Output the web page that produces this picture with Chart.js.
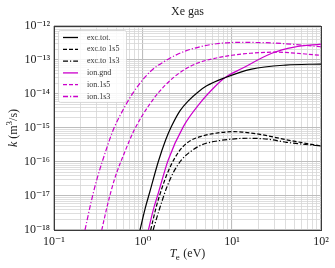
<!DOCTYPE html>
<html><head><meta charset="utf-8">
<script src="https://cdn.jsdelivr.net/npm/chart.js@4"></script>
<style>html,body{margin:0;padding:0;background:#fff}canvas{display:block}</style>
</head><body><canvas id="c" width="335" height="268"></canvas>
<script>
// ---- data (T_e in eV, k in m^3/s) ----
const T_excTot = [0.925, 1.05, 1.2, 1.49, 1.8, 2.09, 2.6, 3.23, 4.2, 5.2, 8.3, 16.6, 40, 100];
const k_excTot = [1e-18, 4.0e-18, 1.4e-17, 1.05e-16, 4.5e-16, 1.12e-15, 3.2e-15, 6.3e-15, 1.17e-14, 1.74e-14, 3.0e-14, 5.4e-14, 7.1e-14, 7.6e-14];

const T_exc1s5 = [1.22, 1.4, 1.62, 1.9, 2.29, 2.8, 3.5, 4.57, 7, 10.7, 13, 20, 41, 100];
const k_exc1s5 = [1e-18, 4.5e-18, 1.6e-17, 5.0e-17, 1.35e-16, 2.8e-16, 4.4e-16, 5.75e-16, 7.2e-16, 7.8e-16, 7.6e-16, 6.6e-16, 4.5e-16, 2.95e-16];

const T_exc1s3 = [1.3, 1.5, 1.85, 2.2, 2.72, 3.4, 4.57, 7, 10.7, 15, 25, 41, 100];
const k_exc1s3 = [1e-18, 3.5e-18, 1.8e-17, 5.0e-17, 1.17e-16, 2.0e-16, 3.2e-16, 4.2e-16, 4.8e-16, 5.0e-16, 4.7e-16, 3.8e-16, 2.95e-16];

const T_ionGnd = [1.15, 1.3, 1.49, 1.92, 2.84, 4.37, 6.45, 8.3, 12.9, 28, 50, 100];
const k_ionGnd = [1e-18, 3.8e-18, 1.25e-17, 1.15e-16, 1.1e-15, 5.4e-15, 1.66e-14, 3.0e-14, 5.6e-14, 1.58e-13, 2.4e-13, 2.95e-13];

const T_ion1s5 = [0.344, 0.40, 0.48, 0.63, 0.80, 1.2, 1.77, 2.84, 4.2, 5.9, 10, 16, 30, 100];
const k_ion1s5 = [1e-18, 5.6e-18, 3.2e-17, 2.1e-16, 8.9e-16, 5.2e-15, 1.8e-14, 5.0e-14, 8.3e-14, 1.07e-13, 1.38e-13, 1.58e-13, 1.7e-13, 1.38e-13];

const T_ion1s3 = [0.223, 0.26, 0.30, 0.39, 0.464, 0.60, 0.78, 1.2, 1.85, 2.84, 4.5, 6.7, 12, 30, 100];
const k_ion1s3 = [1e-18, 6.3e-18, 2.8e-17, 2.5e-16, 8.9e-16, 3.5e-15, 1.12e-14, 4.5e-14, 1.0e-13, 1.74e-13, 2.5e-13, 3.0e-13, 3.3e-13, 3.15e-13, 2.45e-13];

const seriesNames = ["exc.tot.", "exc.to 1s5", "exc.to 1s3", "ion.gnd", "ion.1s5", "ion.1s3"];
const xDecades = [-1, 0, 1, 2];
const yDecades = [-18, -17, -16, -15, -14, -13, -12];
const titleText = "Xe gas";

// ---- build ----
const BLACK = '#000000', MAG = '#cc00cc';
const DASH = [4, 2], DASHDOT = [5, 2, 1.2, 2];
function pts(T, k) { return T.map((t, i) => ({x: t, y: k[i]})); }
const styles = [
  {c: BLACK, d: []}, {c: BLACK, d: DASH}, {c: BLACK, d: DASHDOT},
  {c: MAG, d: []}, {c: MAG, d: DASH}, {c: MAG, d: DASHDOT}
];
const allData = [pts(T_excTot,k_excTot), pts(T_exc1s5,k_exc1s5), pts(T_exc1s3,k_exc1s3),
                 pts(T_ionGnd,k_ionGnd), pts(T_ion1s5,k_ion1s5), pts(T_ion1s3,k_ion1s3)];
const datasets = allData.map((d, i) => ({
  label: seriesNames[i], data: d, showLine: true, pointRadius: 0,
  borderColor: styles[i].c, borderDash: styles[i].d, borderWidth: 1.2,
  cubicInterpolationMode: 'monotone', fill: false
}));

const SUP = {'-':'\u207B','0':'\u2070','1':'\u00B9','2':'\u00B2','3':'\u00B3','4':'\u2074','5':'\u2075','6':'\u2076','7':'\u2077','8':'\u2078','9':'\u2079'};
function supStr(n){ return String(n).split('').map(ch => SUP[ch]).join(''); }
function logTicks(decs){
  const out = [];
  for (let i = 0; i < decs.length; i++){
    const p = decs[i];
    out.push({value: Math.pow(10, p), major: true});
    if (i < decs.length - 1) for (let m = 2; m <= 9; m++) out.push({value: m * Math.pow(10, p), major: false});
  }
  return out;
}
function isMajor(v){ const l = Math.log10(v); return Math.abs(l - Math.round(l)) < 1e-6; }
function label(v){ if (!isMajor(v)) return ''; return '10' + supStr(Math.round(Math.log10(v))); }

const FONT = "'Liberation Serif', 'DejaVu Serif', serif";
const gridColor = ctx => (ctx.tick && isMajor(ctx.tick.value)) ? '#bdbdbd' : '#d6d6d6';
const gridWidth = ctx => (ctx.tick && isMajor(ctx.tick.value)) ? 1.1 : 0.8;

const decor = {
  id: 'decor',
  afterDraw(chart){
    const ctx = chart.ctx, a = chart.chartArea;
    ctx.save();
    // frame
    ctx.strokeStyle = '#3a3a3a'; ctx.lineWidth = 1;
    ctx.strokeRect(Math.round(a.left)+0.5, Math.round(a.top)+0.5, Math.round(a.right-a.left), Math.round(a.bottom-a.top));
    // title
    ctx.fillStyle = '#222';
    ctx.font = "12px " + FONT; ctx.textAlign = 'center'; ctx.textBaseline = 'alphabetic';
    ctx.fillText(titleText, (a.left + a.right)/2, 15);
    // x axis title: T_e (eV)
    const cx = (a.left + a.right)/2, by = 257;
    ctx.textAlign = 'left';
    const pT = "italic 12px " + FONT, pe = "9px " + FONT, pr = "12px " + FONT;
    ctx.font = pT; const wT = ctx.measureText('T').width;
    ctx.font = pe; const we = ctx.measureText('e').width;
    ctx.font = pr; const wr = ctx.measureText(' (eV)').width;
    let x0 = cx - (wT + we + wr)/2;
    ctx.font = pT; ctx.fillText('T', x0, by);
    ctx.font = pe; ctx.fillText('e', x0 + wT - 0.5, by + 2.5);
    ctx.font = pr; ctx.fillText(' (eV)', x0 + wT + we, by);
    // y axis title: k (m^3/s)
    ctx.save();
    ctx.translate(13, (a.top + a.bottom)/2);
    ctx.rotate(-Math.PI/2);
    const pk = "italic 12px " + FONT;
    const s1 = ' (m', s2 = '3', s3 = '/s)';
    ctx.font = pk; const wk = ctx.measureText('k').width;
    ctx.font = pr; const w1 = ctx.measureText(s1).width, w3 = ctx.measureText(s3).width;
    ctx.font = pe; const w2 = ctx.measureText(s2).width;
    let y0 = -(wk + w1 + w2 + w3)/2;
    ctx.font = pk; ctx.fillText('k', y0, 4);
    ctx.font = pr; ctx.fillText(s1, y0 + wk, 4);
    ctx.font = pe; ctx.fillText(s2, y0 + wk + w1, -1);
    ctx.font = pr; ctx.fillText(s3, y0 + wk + w1 + w2, 4);
    ctx.restore();
    // legend
    const lx = a.left + 4, ly = a.top + 4, lw = 68, lh = 72;
    ctx.fillStyle = 'rgba(255,255,255,0.85)';
    ctx.strokeStyle = '#d0d0d0'; ctx.lineWidth = 0.8;
    ctx.beginPath();
    if (ctx.roundRect) ctx.roundRect(lx+0.5, ly+0.5, lw, lh, 2); else ctx.rect(lx+0.5, ly+0.5, lw, lh);
    ctx.fill(); ctx.stroke();
    ctx.font = "8px " + FONT; ctx.textBaseline = 'middle'; ctx.textAlign = 'left';
    chart.data.datasets.forEach((ds, i) => {
      const yy = ly + 7.5 + i * 11.8;
      ctx.strokeStyle = ds.borderColor; ctx.lineWidth = 1.3;
      ctx.setLineDash(ds.borderDash);
      ctx.beginPath(); ctx.moveTo(lx + 5, yy); ctx.lineTo(lx + 20, yy); ctx.stroke();
      ctx.setLineDash([]);
      ctx.fillStyle = '#333';
      ctx.fillText(ds.label, lx + 29, yy);
    });
    ctx.restore();
  }
};

new Chart(document.getElementById('c'), {
  type: 'scatter',
  data: {datasets},
  options: {
    responsive: false, animation: false, devicePixelRatio: 1,
    layout: {padding: {top: 26, right: 14, left: 0, bottom: 0}},
    plugins: {legend: {display: false}, tooltip: {enabled: false}, title: {display: false}},
    scales: {
      x: {
        type: 'logarithmic', min: 0.1, max: 100,
        afterBuildTicks: s => { s.ticks = logTicks(xDecades); },
        afterFit: s => { s.height = 38; },
        grid: {color: gridColor, lineWidth: gridWidth, drawTicks: false},
        border: {display: false},
        ticks: {autoSkip: false, maxRotation: 0, padding: 5, color: '#222',
                font: {family: FONT, size: 12}, callback: v => label(v)}
      },
      y: {
        type: 'logarithmic', min: 1e-18, max: 1e-12,
        afterBuildTicks: s => { s.ticks = logTicks(yDecades); },
        afterFit: s => { s.width = 54; },
        grid: {color: gridColor, lineWidth: gridWidth, drawTicks: false},
        border: {display: false},
        ticks: {autoSkip: false, padding: 4, color: '#222',
                font: {family: FONT, size: 12}, callback: v => label(v)}
      }
    }
  },
  plugins: [decor]
});
</script></body></html>
